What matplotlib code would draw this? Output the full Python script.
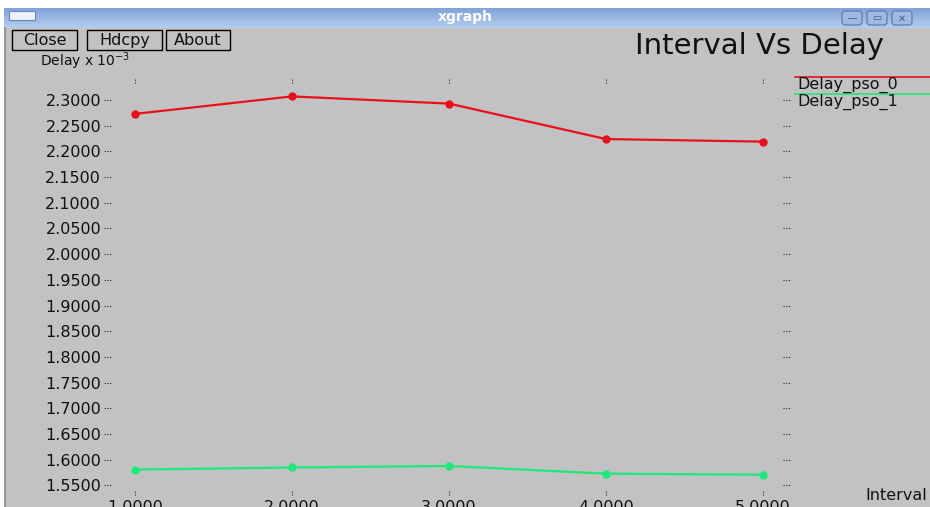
import matplotlib.pyplot as plt
import numpy as np
from matplotlib.patches import Rectangle, FancyBboxPatch
from matplotlib.colors import LinearSegmentedColormap

interval = [1, 2, 3, 4, 5]
delay_pso_0 = [2.273, 2.307, 2.293, 2.224, 2.219]
delay_pso_1 = [1.581, 1.585, 1.588, 1.573, 1.571]
series_names = ['Delay_pso_0', 'Delay_pso_1']
series_colors = ['#e8101a', '#1ee87a']
y_ticks = [1.55, 1.60, 1.65, 1.70, 1.75, 1.80, 1.85, 1.90, 1.95, 2.00,
           2.05, 2.10, 2.15, 2.20, 2.25, 2.30]

W, H = 930, 507
GRAY = '#c2c2c2'
plt.rcParams['font.family'] = ['DejaVu Sans']

fig = plt.figure(figsize=(W / 100, H / 100), dpi=100)
fig.patch.set_facecolor('white')

# background axes in pixel coordinates for the window chrome
bg = fig.add_axes([0, 0, 1, 1])
bg.set_xlim(0, W)
bg.set_ylim(H, 0)
bg.axis('off')

# client area
bg.add_patch(Rectangle((4, 28), W - 4, H - 28, facecolor=GRAY, edgecolor='none'))
bg.plot([5, 5], [28, H], color='#8a8a8a', lw=1.2)

# title bar gradient
grad = np.linspace(0, 1, 50).reshape(-1, 1)
bar_cmap = LinearSegmentedColormap.from_list('bar', ['#82a3d8', '#b4ccef'])
bg.imshow(grad, extent=(4, W, 28, 8), cmap=bar_cmap, aspect='auto', zorder=1)
bg.add_patch(Rectangle((9, 11), 26, 9, facecolor='#eef2fb', edgecolor='#6c86b8', lw=0.8, zorder=2))
bg.text(465, 17, 'xgraph', color='white', fontsize=10, fontweight='bold',
        ha='center', va='center', zorder=3)
for bx, glyph in zip([842, 867, 892], ['—', '▭', '✕']):
    bg.add_patch(FancyBboxPatch((bx, 11), 20, 14, boxstyle='round,pad=0,rounding_size=3',
                                facecolor='#9fb9e4', edgecolor='#5d7db3', lw=0.9, zorder=2))
    bg.text(bx + 10, 18.5, glyph, color='#3f5f97', fontsize=7, ha='center', va='center', zorder=3)

# buttons
for bx0, bx1, label in [(12, 77, 'Close'), (87, 162, 'Hdcpy'), (166, 230, 'About')]:
    bg.add_patch(Rectangle((bx0, 30), bx1 - bx0, 20, facecolor=GRAY, edgecolor='black', lw=1.0))
    bg.text((bx0 + bx1) / 2, 40.5, label, fontsize=11.5, ha='center', va='center', color='#111111')

# axis caption and title
bg.text(40, 61, 'Delay x 10$^{-3}$', fontsize=10, ha='left', va='center', color='#111111')
bg.text(759, 46, 'Interval Vs Delay', fontsize=21, ha='center', va='center', color='#111111')
bg.text(865, 495, 'Interval', fontsize=11.5, ha='left', va='center', color='#111111')

# legend
for i, (name, col) in enumerate(zip(series_names, series_colors)):
    yl = 77 + i * 17
    bg.plot([795, W], [yl, yl], color=col, lw=1.2)
    bg.text(797, yl + 7.5, name, fontsize=11.5, ha='left', va='center', color='#111111')

# plot area
x0, x1, y0, y1 = 104, 790, 78, 497
ax = fig.add_axes([x0 / W, 1 - y1 / H, (x1 - x0) / W, (y1 - y0) / H])
ax.set_facecolor('none')
for s in ax.spines.values():
    s.set_visible(False)

for vals, col in zip([delay_pso_0, delay_pso_1], series_colors):
    ax.plot(interval, vals, color=col, lw=1.6, marker='o', markersize=5, clip_on=False)

ax.set_xlim(0.8025, 5.172)
ax.set_ylim(1.5276, 2.3428)
ax.set_yticks(y_ticks)
ax.set_yticklabels([f'{v:.4f}' for v in y_ticks])
ax.set_xticks(interval)
ax.set_xticklabels([f'{v:.4f}' for v in interval])
ax.tick_params(axis='both', length=0, labelsize=11.5, colors='#111111')
ax.tick_params(axis='y', pad=2)
ax.tick_params(axis='x', pad=2)

# xgraph style dotted tick marks
ytr = ax.get_yaxis_transform()
xtr = ax.get_xaxis_transform()
for v in y_ticks:
    ax.plot([0, 0.010], [v, v], transform=ytr, color='#222222', lw=0.8, ls=(0, (1, 1.5)), clip_on=False)
    ax.plot([0.990, 1.0], [v, v], transform=ytr, color='#222222', lw=0.8, ls=(0, (1, 1.5)), clip_on=False)
for v in interval:
    ax.plot([v, v], [0.988, 1.0], transform=xtr, color='#222222', lw=0.8, ls=(0, (1, 1.5)), clip_on=False)
    ax.plot([v, v], [0.005, 0.017], transform=xtr, color='#222222', lw=0.8, ls=(0, (1, 1.5)), clip_on=False)

fig.savefig('out.png', dpi=100, facecolor=fig.get_facecolor())
